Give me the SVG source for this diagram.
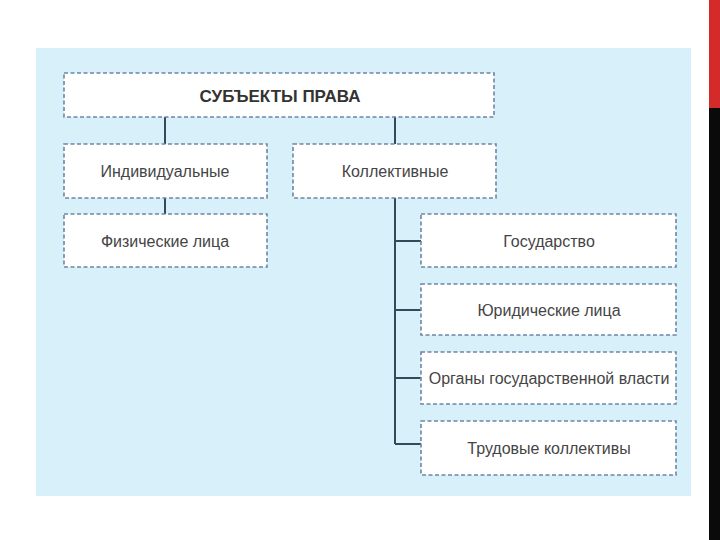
<svg xmlns="http://www.w3.org/2000/svg" width="720" height="540" viewBox="0 0 720 540">
<style>
.box{fill:#ffffff;stroke:#6f86a3;stroke-width:1.6;stroke-dasharray:4 2.5}
.t{font-family:"Liberation Sans",Arial,sans-serif;font-size:16px;fill:#454545;text-anchor:middle;dominant-baseline:central}
.h{font-weight:bold;font-size:17px;fill:#333}
.c{stroke:#34495a;stroke-width:2;fill:none}
</style>
<rect x="0" y="0" width="720" height="540" fill="#ffffff"/>
<rect x="36" y="48" width="655" height="448" fill="#d8f0fa"/>
<rect x="709" y="0" width="11" height="108" fill="#d42a2a"/>
<rect x="709" y="108" width="11" height="432" fill="#0a0a0a"/>
<g id="connectors">
<path class="c" d="M165 117V144M395 117V144M165 198V214M395 198V444M395 241H421M395 310H421M395 378H421M395 444H421"/>
</g>
<g id="root"><rect class="box" x="64" y="73" width="430" height="44"/><text class="t h" x="280" y="96">СУБЪЕКТЫ ПРАВА</text></g>
<g id="individual"><rect class="box" x="64" y="144" width="203" height="54"/><text class="t" x="165" y="171">Индивидуальные</text></g>
<g id="collective"><rect class="box" x="293" y="144" width="203" height="54"/><text class="t" x="395" y="171">Коллективные</text></g>
<g id="physical"><rect class="box" x="64" y="214" width="203" height="53"/><text class="t" x="165" y="241">Физические лица</text></g>
<g id="state"><rect class="box" x="421" y="214" width="255" height="53"/><text class="t" x="549" y="241">Государство</text></g>
<g id="legal"><rect class="box" x="421" y="284" width="255" height="51"/><text class="t" x="549" y="310">Юридические лица</text></g>
<g id="organs"><rect class="box" x="421" y="352" width="255" height="52"/><text class="t" x="549" y="378">Органы государственной власти</text></g>
<g id="labor"><rect class="box" x="421" y="421" width="255" height="54"/><text class="t" x="549" y="448">Трудовые коллективы</text></g>
</svg>
